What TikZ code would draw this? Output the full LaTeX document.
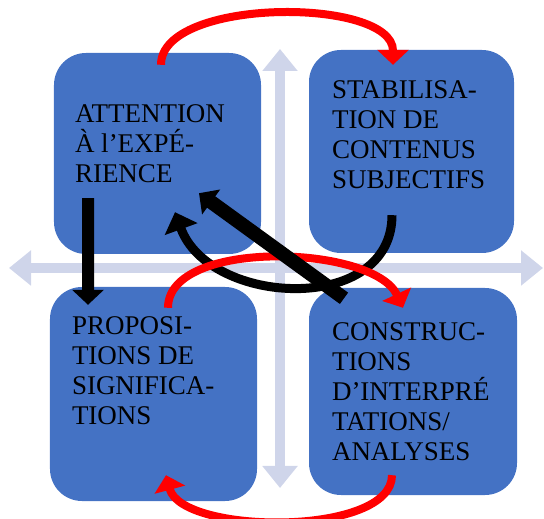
\documentclass[tikz,border=0pt]{standalone}
\usepackage{fontspec}
\setmainfont{Liberation Serif}
\usetikzlibrary{arrows.meta}
\definecolor{boxblue}{RGB}{68,114,196}
\definecolor{axisblue}{RGB}{207,213,234}

\begin{document}
\begin{tikzpicture}[x=1bp, y=1bp,
  box/.style={draw=none, fill=boxblue, rounded corners=32bp, inner sep=0pt},
  lbl/.style={anchor=north west, align=left, inner sep=0pt, font=\fontsize{27bp}{30bp}\selectfont},
  axis/.style={draw=axisblue, line width=9.5bp, {Triangle[length=22bp, width=34bp]}-{Triangle[length=22bp, width=34bp]}},
  redarrow/.style={draw=red, line width=8bp, -{Triangle[length=15bp, width=31bp]}},
  blackarrow/.style={draw=black, line width=12bp, -{Triangle[length=15bp, width=31bp]}}]
\useasboundingbox (0,0) rectangle (544,519);
% Draw the two axes
\coordinate (west) at (9,251);
\coordinate (east) at (543,251);
\coordinate (south) at (280,31);
\coordinate (north) at (280,470);
\draw[axis] (west) -- (east);
\draw[axis] (south) -- (north);
% Draw the four boxes
\node[box, minimum width=207bp, minimum height=201bp] (tl) at (157.5,365.5) {};
\node[box, minimum width=205bp, minimum height=203bp] (tr) at (411.5,367.5) {};
\node[box, minimum width=207bp, minimum height=214bp] (bl) at (153.5,125) {};
\node[box, minimum width=208bp, minimum height=207bp] (br) at (413,127.5) {};
\node[lbl] (tltext) at ([xshift=21bp, yshift=-52bp]tl.north west) {ATTENTION\\À l’EXPÉ-\\RIENCE};
\node[lbl] (trtext) at ([xshift=23bp, yshift=-31bp]tr.north west) {STABILISA-\\TION DE\\CONTENUS\\SUBJECTIFS};
\node[lbl] (bltext) at ([xshift=22bp, yshift=-30bp]bl.north west) {PROPOSI-\\TIONS DE\\SIGNIFICA-\\TIONS};
\node[lbl] (brtext) at ([xshift=23bp, yshift=-35bp]br.north west) {CONSTRUC-\\TIONS\\D’INTERPRÉ\\TATIONS/\\ANALYSES};
% Draw the arrows
\draw[redarrow] ([xshift=3.5bp, yshift=-12bp]tl.north) to[out=90, in=90, looseness=0.75] ([xshift=-18.5bp, yshift=-15bp]tr.north);
\draw[blackarrow, line width=9bp, -{Triangle[length=18bp, width=34bp]}] ([xshift=-19.5bp, yshift=38bp]tr.south) to[out=-90, in=-70, looseness=1.18] ([xshift=17.5bp, yshift=42bp]tl.south);
\draw[redarrow] ([xshift=14.5bp, yshift=-21bp]bl.north) to[out=90, in=115, looseness=0.76] ([xshift=-10bp, yshift=-20bp]br.north);
\draw[blackarrow, line width=14bp, -{Triangle[length=15bp, width=30bp]}] ([xshift=-69bp, yshift=-10.5bp]br.north) -- ([xshift=41.5bp, yshift=61bp]tl.south);
\draw[blackarrow] ([xshift=-69.5bp, yshift=56bp]tl.south) -- ([xshift=-65.5bp, yshift=-18bp]bl.north);
\draw[redarrow] ([xshift=-21bp, yshift=20bp]br.south) to[out=-90, in=-75, looseness=0.7] ([xshift=12.5bp, yshift=26bp]bl.south);
\end{tikzpicture}
\end{document}
